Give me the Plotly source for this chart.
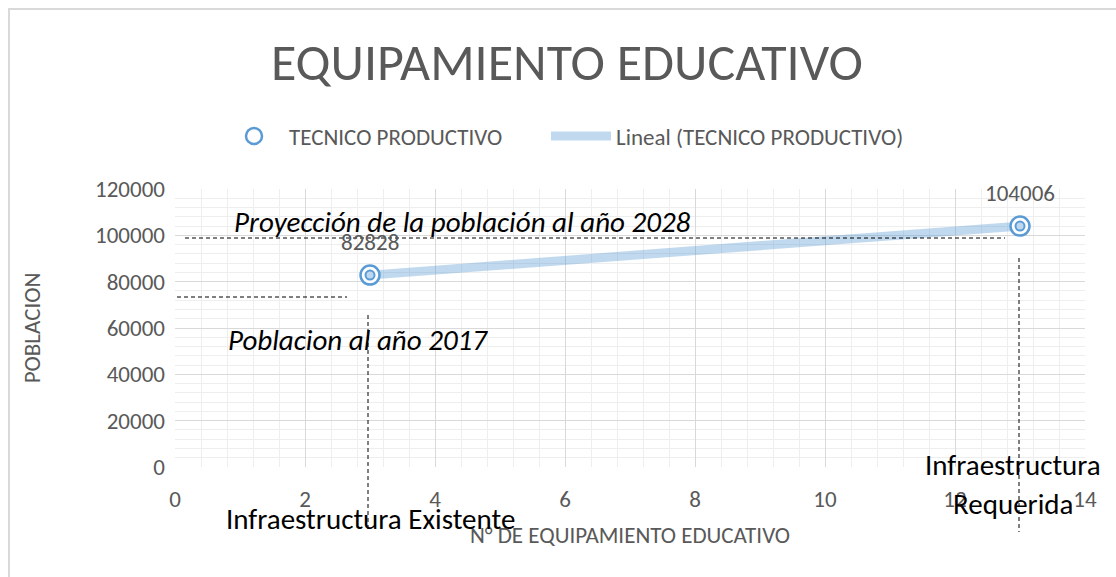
import numpy as np
import plotly.graph_objects as go

# ---- data ----
equipamiento = [3, 13]
poblacion = [82828, 104006]
x_ticks = [0, 2, 4, 6, 8, 10, 12, 14]
y_ticks = [0, 20000, 40000, 60000, 80000, 100000, 120000]
series_name = "TECNICO PRODUCTIVO"
trend_name = "Lineal (TECNICO PRODUCTIVO)"

W, H = 1116, 577
L, R, T, B = 175, 31, 189, 110
PW, PH = W - L - R, H - T - B

def xp(px):
    return (px - L) / PW

def yp(py):
    return (H - B - py) / PH

FONT = "Carlito, 'Liberation Sans Narrow', 'DejaVu Sans Condensed', 'Liberation Sans', sans-serif"
GRAY = "#595959"
BLUE = "#5B9BD5"

coef = np.polyfit(equipamiento, poblacion, 1)
tx = np.linspace(min(equipamiento), max(equipamiento), 50)
ty = np.polyval(coef, tx)

fig = go.Figure()
fig.add_trace(go.Scatter(x=tx, y=ty, mode="lines", name=trend_name,
                         line=dict(color="rgba(91,155,213,0.38)", width=9),
                         legend="legend2", hoverinfo="skip"))
fig.add_trace(go.Scatter(x=equipamiento, y=poblacion, mode="markers", name=series_name,
                         marker=dict(symbol="circle", size=19, color="white",
                                     line=dict(color=BLUE, width=2.5)),
                         legend="legend"))
fig.add_trace(go.Scatter(x=equipamiento, y=poblacion, mode="markers", showlegend=False,
                         marker=dict(symbol="circle", size=9, color="#BDD7EE",
                                     line=dict(color=BLUE, width=2)),
                         hoverinfo="skip"))

annotations = []
for xv, yv in zip(equipamiento, poblacion):
    annotations.append(dict(x=xv, y=yv, xref="x", yref="y", text=str(yv), showarrow=False,
                            yshift=33, font=dict(size=23, color=GRAY, family=FONT)))

def txt(text, cx, cy, size, italic=False):
    annotations.append(dict(x=xp(cx), y=yp(cy), xref="paper", yref="paper", text=text,
                            showarrow=False, xanchor="center", yanchor="middle",
                            font=dict(size=size, color="black", family=FONT,
                                      style="italic" if italic else "normal")))

txt("Proyección de la población al año 2028", 462, 222, 29, True)
txt("Poblacion al año 2017", 358, 340, 29, True)
txt("Infraestructura Existente", 370, 519, 29)
txt("Infraestructura", 1013, 465, 29)
txt("Requerida", 1013, 504, 29)

# title
annotations.append(dict(x=xp(567), y=yp(62), xref="paper", yref="paper",
                        text="EQUIPAMIENTO EDUCATIVO", showarrow=False,
                        xanchor="center", yanchor="middle",
                        font=dict(size=52, color=GRAY, family=FONT)))

dash = dict(color="black", width=1, dash="4px,3px")
shapes = [
    dict(type="line", xref="paper", yref="paper", x0=xp(185), x1=xp(1005), y0=yp(238), y1=yp(238), line=dash),
    dict(type="line", xref="paper", yref="paper", x0=xp(177), x1=xp(347), y0=yp(297), y1=yp(297), line=dash),
    dict(type="line", xref="paper", yref="paper", x0=xp(368), x1=xp(368), y0=yp(315), y1=yp(532), line=dash),
    dict(type="line", xref="paper", yref="paper", x0=xp(1019), x1=xp(1019), y0=yp(258), y1=yp(532), line=dash),
    # outer chart border
    dict(type="line", xref="paper", yref="paper", x0=xp(9), x1=xp(9), y0=yp(9), y1=yp(580),
         line=dict(color="#D9D9D9", width=2)),
    dict(type="line", xref="paper", yref="paper", x0=xp(8), x1=xp(1120), y0=yp(9), y1=yp(9),
         line=dict(color="#D9D9D9", width=2)),
]

legend_common = dict(orientation="h", yanchor="middle", xanchor="left",
                     font=dict(size=23, color=GRAY, family=FONT), itemwidth=60,
                     bgcolor="rgba(0,0,0,0)")

fig.update_layout(
    width=W, height=H,
    margin=dict(l=L, r=R, t=T, b=B),
    paper_bgcolor="white", plot_bgcolor="white",
    font=dict(family=FONT, color=GRAY, size=23),
    showlegend=True,
    legend=dict(x=xp(219), y=yp(136), **legend_common),
    legend2=dict(x=xp(546), y=yp(136), **legend_common),
    annotations=annotations,
    shapes=shapes,
    xaxis=dict(range=[0, 14], tickvals=x_ticks, ticktext=[str(v) for v in x_ticks],
               showgrid=True, gridcolor="#D9D9D9", gridwidth=1,
               minor=dict(dtick=0.4, showgrid=True, gridcolor="#EEEEEE", gridwidth=1),
               zeroline=False, showline=False, ticks="",
               tickfont=dict(size=23, color=GRAY), ticklabelstandoff=16,
               title=dict(text="N° DE EQUIPAMIENTO EDUCATIVO", font=dict(size=23, color=GRAY),
                          standoff=14)),
    yaxis=dict(range=[0, 120000], tickvals=y_ticks, ticktext=[str(v) for v in y_ticks],
               showgrid=True, gridcolor="#D9D9D9", gridwidth=1,
               minor=dict(dtick=4000, showgrid=True, gridcolor="#EEEEEE", gridwidth=1),
               zeroline=False, showline=False, ticks="",
               tickfont=dict(size=23, color=GRAY), ticklabelstandoff=9,
               title=dict(text="POBLACION", font=dict(size=23, color=GRAY), standoff=47)),
)

fig.write_html("out.html", config={"displayModeBar": False},
               post_script="document.body.style.margin='0';document.body.style.overflow='hidden';")
